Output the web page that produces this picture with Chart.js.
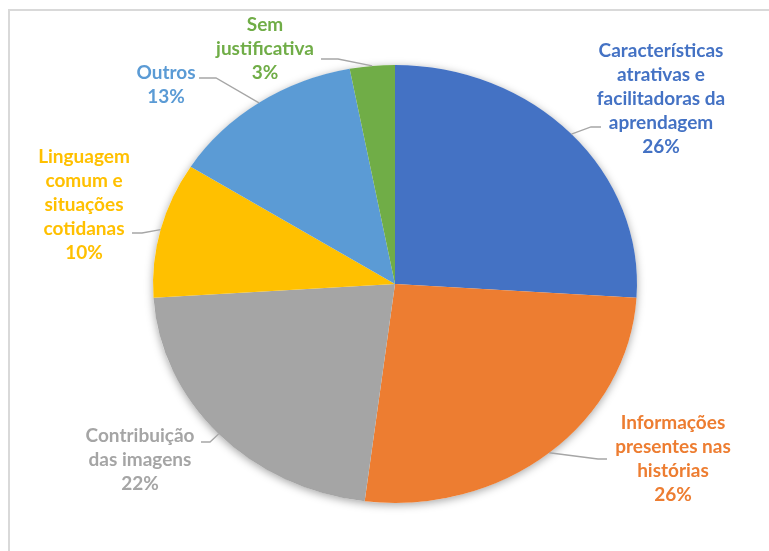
<!DOCTYPE html>
<html>
<head>
<meta charset="utf-8">
<script src="https://cdn.jsdelivr.net/npm/chart.js@4/dist/chart.umd.min.js"></script>
<style>
    html, body { margin: 0; padding: 0; background: #fff; }
    #wrap { position: relative; width: 769px; height: 551px; }
</style>
</head>
<body>
<div id="wrap"><canvas id="pie" width="769" height="551"></canvas></div>
<script>
// === Data ===
const categories = [
    ['Características', 'atrativas e', 'facilitadoras da', 'aprendagem'],
    ['Informações', 'presentes nas', 'histórias'],
    ['Contribuição', 'das imagens'],
    ['Linguagem', 'comum e', 'situações', 'cotidanas'],
    ['Outros'],
    ['Sem', 'justificativa']
];
const percentages = [26, 26, 22, 10, 13, 3];
const sliceColors = ['#4472C4', '#ED7D31', '#A5A5A5', '#FFC000', '#5B9BD5', '#70AD47'];

// label layout (text centre x, first line y, leader elbow, leader end)
const labelLayout = [
    { x: 661, y: 51, elbow: [591, 127], end: [601, 127] },
    { x: 673, y: 423, elbow: [598, 459], end: [607, 459] },
    { x: 140, y: 436, elbow: [210, 442], end: [201, 442] },
    { x: 84, y: 157, elbow: [142, 233], end: [132, 233] },
    { x: 166, y: 73, elbow: [216, 78], end: [199, 78] },
    { x: 265, y: 25, elbow: [338, 59], end: [321, 59] }
];

const squash = 0.905; // pie is drawn slightly elliptical
const lineHeight = 24;

// squash the pie vertically and put a soft shadow behind it
const ellipsePlugin = {
    id: 'ellipse',
    beforeDraw(chart) {
        const ctx = chart.ctx;
        ctx.save();
        ctx.strokeStyle = '#d9d9d9';
        ctx.lineWidth = 2;
        ctx.strokeRect(9, 10, 800, 600);
        ctx.restore();
    },
    beforeDatasetsDraw(chart) {
        const ctx = chart.ctx;
        const arc = chart.getDatasetMeta(0).data[0];
        const { x, y, outerRadius } = arc.getProps(['x', 'y', 'outerRadius'], true);
        ctx.save();
        ctx.shadowColor = 'rgba(0,0,0,0.35)';
        ctx.shadowBlur = 8;
        ctx.shadowOffsetY = 2;
        ctx.fillStyle = '#ffffff';
        ctx.beginPath();
        ctx.ellipse(x, y, outerRadius, outerRadius * squash, 0, 0, Math.PI * 2);
        ctx.fill();
        ctx.restore();

        ctx.save();
        ctx.translate(x, y);
        ctx.scale(1, squash);
        ctx.translate(-x, -y);
    },
    afterDatasetsDraw(chart) {
        chart.ctx.restore();
    },
    afterDraw(chart) {
        const ctx = chart.ctx;
        const arcs = chart.getDatasetMeta(0).data;
        ctx.save();
        arcs.forEach((arc, i) => {
            const { x, y, startAngle, endAngle, outerRadius } =
                arc.getProps(['x', 'y', 'startAngle', 'endAngle', 'outerRadius'], true);
            const mid = (startAngle + endAngle) / 2;
            const ax = x + Math.cos(mid) * outerRadius;
            const ay = y + Math.sin(mid) * outerRadius * squash;
            const lay = labelLayout[i];

            // leader line
            ctx.strokeStyle = '#a6a6a6';
            ctx.lineWidth = 1.3;
            ctx.beginPath();
            ctx.moveTo(ax, ay);
            ctx.lineTo(lay.elbow[0], lay.elbow[1]);
            ctx.lineTo(lay.end[0], lay.end[1]);
            ctx.stroke();

            // label text
            ctx.fillStyle = sliceColors[i];
            ctx.font = 'bold 19px Lato, "Open Sans", sans-serif';
            ctx.textAlign = 'center';
            ctx.textBaseline = 'middle';
            const lines = categories[i].concat([percentages[i] + '%']);
            lines.forEach((txt, k) => {
                ctx.fillText(txt, lay.x, lay.y + k * lineHeight);
            });
        });
        ctx.restore();
    }
};

new Chart(document.getElementById('pie'), {
    type: 'pie',
    data: {
        labels: categories.map(c => c.join(' ')),
        datasets: [{
            data: percentages,
            backgroundColor: sliceColors,
            borderWidth: 0
        }]
    },
    options: {
        responsive: false,
        animation: false,
        devicePixelRatio: 1,
        layout: { padding: { left: 153, right: 132, top: 42, bottom: 25 } },
        plugins: {
            legend: { display: false },
            tooltip: { enabled: false }
        }
    },
    plugins: [ellipsePlugin]
});
</script>
</body>
</html>
